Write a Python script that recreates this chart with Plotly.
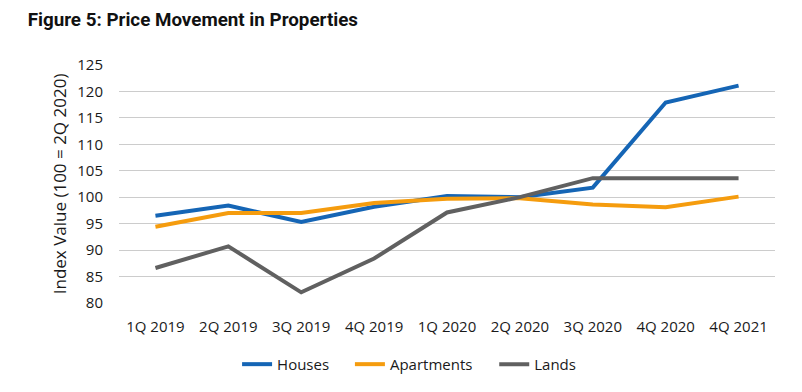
import plotly.graph_objects as go

categories = ["1Q 2019", "2Q 2019", "3Q 2019", "4Q 2019", "1Q 2020", "2Q 2020", "3Q 2020", "4Q 2020", "4Q 2021"]
houses = [96.5, 98.4, 95.3, 98.2, 100.2, 100.0, 101.8, 117.9, 121.1]
apartments = [94.4, 97.0, 97.0, 98.9, 99.7, 99.8, 98.6, 98.1, 100.1]
lands = [86.6, 90.7, 82.0, 88.4, 97.1, 100.0, 103.6, 103.6, 103.6]
y_ticks = [80, 85, 90, 95, 100, 105, 110, 115, 120, 125]

font_family = "Open Sans, Liberation Sans, sans-serif"

fig = go.Figure()
series = [("Houses", houses, "#1565b5", "legend"),
          ("Apartments", apartments, "#f59c0e", "legend2"),
          ("Lands", lands, "#606060", "legend3")]
for name, vals, col, lg in series:
    fig.add_trace(go.Scatter(x=categories, y=vals, mode="lines", name=name, legend=lg,
                             line=dict(color=col, width=4)))

legend_common = dict(orientation="h", xanchor="left", yanchor="top", yref="container",
                     xref="paper", y=0.096, font=dict(size=15, color="#1a1a1a"),
                     bgcolor="rgba(0,0,0,0)")

fig.update_layout(
    width=786, height=376,
    margin=dict(l=111, r=19, t=57, b=80),
    paper_bgcolor="white", plot_bgcolor="white",
    title=dict(text="<b>Figure 5: Price Movement in Properties</b>", x=0.025, xanchor="left",
               y=0.988, yanchor="top", font=dict(family="Roboto, sans-serif", size=18.8, color="#111111")),
    font=dict(family=font_family, size=15, color="#1a1a1a"),
    xaxis=dict(type="category", range=[-0.5, 8.5], showgrid=False, showline=False, ticks="",
               tickfont=dict(size=15, color="#1a1a1a"), ticklabelstandoff=13),
    yaxis=dict(range=[80, 125], tickvals=y_ticks, showgrid=True, gridcolor="#cccccc", gridwidth=1,
               zeroline=False, showline=False, ticks="", tickfont=dict(size=15, color="#1a1a1a"),
               ticklabelstandoff=15,
               title=dict(text="Index Value (100 = 2Q 2020)", font=dict(size=17, color="#1a1a1a"), standoff=6)),
    legend=dict(legend_common, x=0.18),
    legend2=dict(legend_common, x=0.352),
    legend3=dict(legend_common, x=0.572),
    showlegend=True,
)

fig.write_html("out.html")
